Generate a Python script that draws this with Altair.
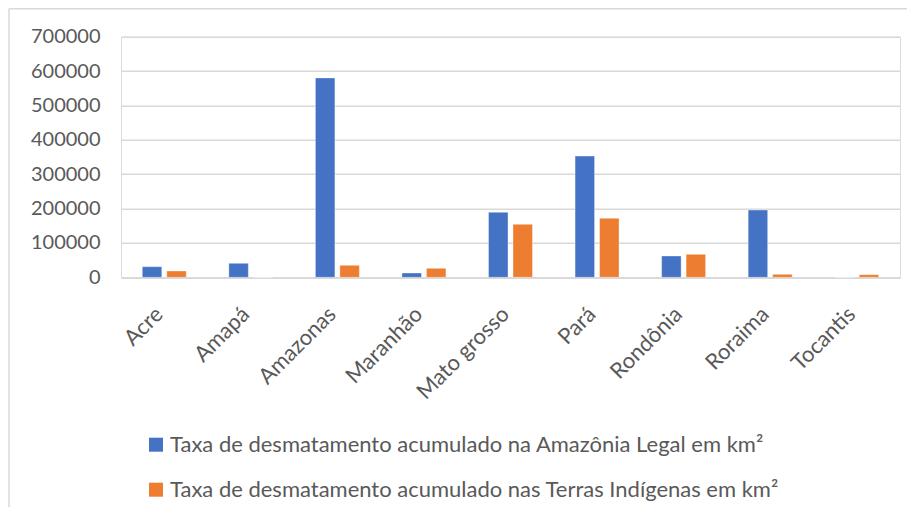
import altair as alt
import pandas as pd

states = ["Acre", "Amapá", "Amazonas", "Maranhão", "Mato grosso", "Pará", "Rondônia", "Roraima", "Tocantis"]
serie_legal = "Taxa de desmatamento acumulado na Amazônia Legal em km²"
serie_ti = "Taxa de desmatamento acumulado nas Terras Indígenas em km²"
series = [serie_legal, serie_ti]
legal_values = [30800, 40700, 580000, 12500, 189000, 352600, 62000, 195600, 0]
ti_values = [18300, 0, 34900, 26200, 154000, 171500, 66900, 8700, 7600]
y_ticks = [0, 100000, 200000, 300000, 400000, 500000, 600000, 700000]
colors = ["#4472C4", "#ED7D31"]

rows = []
for s, a, b in zip(states, legal_values, ti_values):
    rows.append({"estado": s, "serie": serie_legal, "valor": a})
    rows.append({"estado": s, "serie": serie_ti, "valor": b})
df = pd.DataFrame(rows)

FONT = "Lato"
GRAY = "#595959"
GRID = "#d9d9d9"

bars = alt.Chart(df).mark_bar(stroke="white", strokeWidth=0.6, strokeOpacity=0.6).encode(
    x=alt.X("estado:N", sort=states, title=None,
            scale=alt.Scale(paddingInner=0.492, paddingOuter=0.246),
            axis=alt.Axis(labelAngle=-45, labelAlign="right", labelBaseline="middle",
                          labelFont=FONT, labelFontSize=22, labelColor=GRAY,
                          ticks=False, domain=True, domainColor=GRID, domainWidth=1.5,
                          labelPadding=33, labelOffset=-5, grid=False)),
    xOffset=alt.XOffset("serie:N", sort=series,
                        scale=alt.Scale(paddingInner=0.204, paddingOuter=0)),
    y=alt.Y("valor:Q", title=None,
            scale=alt.Scale(domain=[0, 700000], nice=False),
            axis=alt.Axis(values=y_ticks, format="d", labelFont=FONT, labelFontSize=20,
                          labelColor=GRAY, ticks=False, domain=False, labelPadding=21,
                          grid=True, gridColor=GRID, gridWidth=1.5)),
    color=alt.Color("serie:N", sort=series, title=None,
                    scale=alt.Scale(domain=series, range=colors),
                    legend=alt.Legend(orient="none", legendX=24, legendY=397, direction="vertical",
                                      symbolType="square", symbolSize=196, symbolStrokeWidth=0,
                                      symbolOpacity=1, labelFont=FONT, labelFontSize=22,
                                      labelColor=GRAY, labelLimit=0, labelOffset=3,
                                      rowPadding=23)),
)

frame = pd.DataFrame({"k": [0]})
left_border = alt.Chart(frame).mark_rule(color=GRID, strokeWidth=1.5).encode(
    x=alt.value(-112), y=alt.value(-28), y2=alt.value(480))
top_border = alt.Chart(frame).mark_rule(color=GRID, strokeWidth=1.5).encode(
    x=alt.value(-112), x2=alt.value(800), y=alt.value(-28))

chart = alt.layer(left_border, top_border, bars).properties(
    width=779, height=240.6,
    autosize=alt.AutoSizeParams(type="none"),
    padding={"left": 113, "top": 28.7, "right": 7, "bottom": 230},
).configure_view(stroke=None).configure(background="white")

chart.save("out.html", embed_options={"renderer": "svg", "actions": False})
